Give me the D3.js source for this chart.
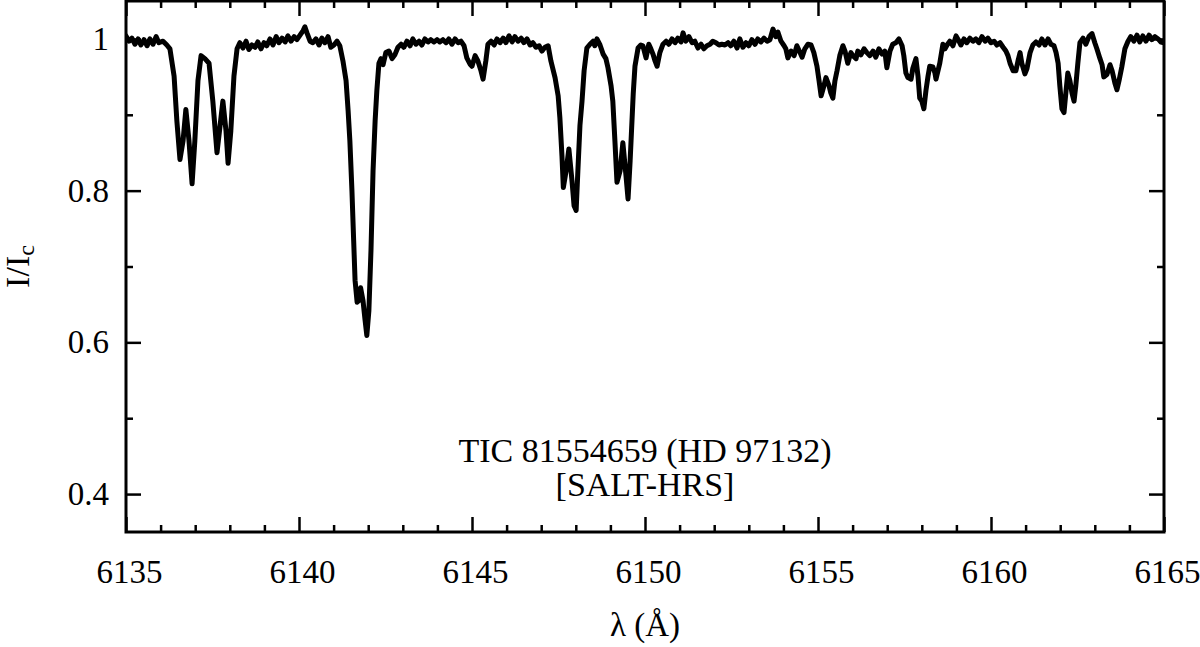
<!DOCTYPE html>
<html>
<head>
<meta charset="utf-8">
<script src="https://cdn.jsdelivr.net/npm/d3@7"></script>
<style>
  html, body { margin: 0; padding: 0; background: #fff; }
  svg { display: block; }
  text { font-family: "Liberation Serif", "Times New Roman", serif; fill: #000; }
</style>
</head>
<body>
<svg id="chart" width="1200" height="647"></svg>
<script>
// ---------------- data ----------------
const wavelength = [
6135.00,6135.09,6135.17,6135.26,6135.35,6135.43,6135.52,6135.61,6135.69,6135.78,6135.87,6135.95,6136.07,6136.18,6136.27,
6136.39,6136.47,6136.56,6136.65,6136.73,6136.82,6136.91,6136.99,6137.08,6137.17,6137.28,6137.40,6137.51,6137.63,6137.72,
6137.80,6137.89,6137.95,6138.03,6138.12,6138.21,6138.29,6138.38,6138.47,6138.55,6138.64,6138.73,6138.81,6138.90,6138.99,
6139.07,6139.16,6139.25,6139.34,6139.42,6139.51,6139.60,6139.68,6139.77,6139.86,6139.94,6140.03,6140.12,6140.17,6140.23,
6140.32,6140.40,6140.49,6140.58,6140.66,6140.75,6140.84,6140.92,6141.01,6141.10,6141.18,6141.27,6141.36,6141.42,6141.47,
6141.53,6141.58,6141.62,6141.68,6141.73,6141.78,6141.85,6141.91,6141.96,6142.02,6142.08,6142.14,6142.20,6142.25,6142.31,
6142.37,6142.43,6142.51,6142.60,6142.69,6142.77,6142.86,6142.95,6143.03,6143.12,6143.21,6143.29,6143.38,6143.47,6143.55,
6143.64,6143.73,6143.81,6143.90,6143.99,6144.07,6144.16,6144.25,6144.33,6144.42,6144.51,6144.60,6144.68,6144.77,6144.85,
6144.94,6145.00,6145.09,6145.17,6145.26,6145.32,6145.40,6145.46,6145.55,6145.64,6145.72,6145.81,6145.90,6145.98,6146.07,
6146.16,6146.24,6146.33,6146.42,6146.50,6146.59,6146.68,6146.76,6146.85,6146.94,6147.02,6147.11,6147.20,6147.28,6147.40,
6147.49,6147.54,6147.60,6147.64,6147.72,6147.80,6147.89,6147.95,6148.01,6148.06,6148.12,6148.18,6148.24,6148.32,6148.41,
6148.50,6148.55,6148.61,6148.70,6148.79,6148.87,6148.93,6149.02,6149.07,6149.13,6149.19,6149.28,6149.36,6149.45,6149.51,
6149.57,6149.66,6149.71,6149.80,6149.88,6149.94,6150.03,6150.11,6150.17,6150.23,6150.29,6150.35,6150.43,6150.52,6150.61,
6150.69,6150.78,6150.87,6150.95,6151.04,6151.10,6151.18,6151.27,6151.36,6151.44,6151.53,6151.62,6151.70,6151.79,6151.88,
6151.96,6152.05,6152.14,6152.22,6152.31,6152.40,6152.48,6152.57,6152.66,6152.74,6152.83,6152.92,6153.00,6153.09,6153.18,
6153.26,6153.35,6153.44,6153.53,6153.61,6153.70,6153.78,6153.84,6153.93,6154.02,6154.07,6154.13,6154.22,6154.31,6154.39,
6154.48,6154.54,6154.62,6154.71,6154.80,6154.88,6154.97,6155.03,6155.09,6155.17,6155.23,6155.32,6155.37,6155.43,6155.49,
6155.55,6155.63,6155.72,6155.78,6155.86,6155.95,6156.01,6156.10,6156.15,6156.24,6156.33,6156.41,6156.50,6156.59,6156.67,
6156.76,6156.85,6156.93,6156.99,6157.08,6157.16,6157.25,6157.34,6157.43,6157.48,6157.54,6157.60,6157.69,6157.74,6157.83,
6157.89,6157.94,6158.00,6158.06,6158.12,6158.18,6158.23,6158.32,6158.38,6158.41,6158.52,6158.61,6158.67,6158.73,6158.81,
6158.90,6158.99,6159.04,6159.13,6159.22,6159.30,6159.39,6159.48,6159.56,6159.65,6159.74,6159.83,6159.91,6160.00,6160.09,
6160.17,6160.26,6160.35,6160.43,6160.49,6160.55,6160.64,6160.72,6160.78,6160.84,6160.89,6160.98,6161.04,6161.13,6161.21,
6161.30,6161.39,6161.47,6161.56,6161.65,6161.73,6161.82,6161.88,6161.94,6161.99,6162.05,6162.11,6162.17,6162.22,6162.28,
6162.34,6162.40,6162.45,6162.51,6162.57,6162.66,6162.74,6162.83,6162.92,6163.00,6163.06,6163.15,6163.21,6163.26,6163.35,
6163.44,6163.50,6163.58,6163.64,6163.70,6163.78,6163.87,6163.96,6164.04,6164.13,6164.22,6164.30,6164.39,6164.48,6164.57,
6164.65,6164.74,6164.83,6164.91,6165.00
];
const intensity = [
1.004,0.997,1.001,0.993,1.000,0.992,0.999,0.991,1.000,0.993,1.003,0.995,0.997,0.992,0.987,
0.951,0.892,0.841,0.866,0.907,0.866,0.809,0.866,0.945,0.978,0.974,0.968,0.918,0.850,0.886,
0.918,0.879,0.836,0.879,0.951,0.987,0.995,0.988,0.997,0.986,0.992,0.989,0.996,0.987,0.995,
0.991,1.000,0.992,1.003,0.995,1.001,0.996,1.004,0.997,1.003,0.999,1.005,1.011,1.016,1.008,
0.997,0.995,1.000,0.992,1.001,0.995,1.003,0.989,0.992,0.997,0.991,0.971,0.945,0.905,0.866,
0.800,0.734,0.682,0.653,0.655,0.672,0.655,0.629,0.609,0.642,0.721,0.826,0.892,0.932,0.968,
0.974,0.966,0.982,0.984,0.974,0.979,0.989,0.993,0.989,0.997,0.991,1.000,0.993,0.997,0.992,
1.000,0.996,0.999,0.996,0.999,0.996,0.999,0.995,1.000,0.993,1.000,0.995,0.997,0.991,0.975,
0.967,0.964,0.978,0.971,0.958,0.947,0.971,0.993,0.997,0.992,1.000,0.995,1.001,0.995,1.004,
0.996,1.003,0.997,1.001,0.995,1.000,0.992,0.995,0.989,0.991,0.984,0.989,0.991,0.971,0.949,
0.925,0.896,0.846,0.804,0.826,0.855,0.813,0.780,0.774,0.826,0.886,0.918,0.958,0.988,0.993,
0.997,0.991,1.000,0.992,0.980,0.974,0.962,0.938,0.918,0.866,0.811,0.826,0.863,0.820,0.789,
0.839,0.928,0.964,0.988,0.992,0.991,0.975,0.993,0.987,0.980,0.971,0.964,0.982,0.993,0.997,
0.993,1.000,0.995,1.001,0.996,1.008,0.997,1.003,0.995,0.997,0.988,0.993,0.987,0.991,0.993,
0.997,0.995,0.992,0.993,0.992,0.995,0.991,0.997,0.988,1.000,0.989,0.995,0.991,0.999,0.993,
1.000,0.996,1.001,0.997,0.999,1.013,1.003,1.009,0.997,0.991,0.987,0.975,0.984,0.978,0.991,
0.982,0.976,0.987,0.993,0.992,0.982,0.964,0.945,0.925,0.938,0.949,0.938,0.929,0.922,0.945,
0.958,0.978,0.991,0.984,0.968,0.982,0.978,0.974,0.984,0.979,0.987,0.982,0.978,0.984,0.976,
0.987,0.980,0.984,0.962,0.984,0.993,0.995,1.000,0.991,0.978,0.955,0.949,0.947,0.961,0.974,
0.951,0.922,0.918,0.908,0.932,0.951,0.964,0.963,0.955,0.947,0.968,0.993,0.987,0.992,0.997,
0.991,1.004,1.000,0.992,1.000,0.995,1.001,0.997,1.000,0.995,1.003,0.997,1.001,0.995,0.997,
0.992,0.995,0.989,0.984,0.978,0.968,0.958,0.958,0.971,0.982,0.968,0.954,0.961,0.982,0.992,
0.996,0.992,1.000,0.992,1.000,0.993,0.991,0.982,0.968,0.938,0.908,0.903,0.932,0.955,0.945,
0.929,0.918,0.938,0.968,0.995,1.001,0.993,1.003,1.007,0.995,0.987,0.974,0.966,0.950,0.953,
0.966,0.958,0.942,0.933,0.945,0.963,0.987,0.997,1.003,0.997,1.005,0.996,1.004,0.997,1.005,
0.999,1.003,1.000,0.996,0.995
];
const xDomain = [6135, 6165];
const yDomain = [0.35, 1.05];
const xMajorTicks = [6135, 6140, 6145, 6150, 6155, 6160, 6165];
const xMinorTicks = [6136,6137,6138,6139,6141,6142,6143,6144,6146,6147,6148,6149,6151,6152,6153,6154,6156,6157,6158,6159,6161,6162,6163,6164];
const yMajorTicks = [0.4, 0.6, 0.8, 1.0];
const yTickLabels = ["0.4", "0.6", "0.8", "1"];
const yMinorTicks = [0.5, 0.7, 0.9];
const annotationLines = ["TIC 81554659 (HD 97132)", "[SALT-HRS]"];
const xLabel = "λ (Å)";

// ---------------- layout ----------------
const margin = { left: 126, top: 1, right: 36, bottom: 115 };
const W = 1200, H = 647;
const pw = W - margin.left - margin.right;   // 1038
const ph = H - margin.top - margin.bottom;   // 531

const svg = d3.select("#chart");
const g = svg.append("g").attr("transform", `translate(${margin.left},${margin.top})`);

const x = d3.scaleLinear().domain(xDomain).range([0, pw]);
const y = d3.scaleLinear().domain(yDomain).range([ph, 0]);

const FS = 33;
const majorLen = 15, minorLen = 7;

function styleAxis(sel) {
  sel.select(".domain").remove();
  sel.selectAll(".tick line").attr("stroke", "#000").attr("stroke-width", 2.5);
  sel.selectAll(".tick text").style("font-size", FS + "px").style("font-family", '"Liberation Serif", serif').attr("fill", "#000");
}

// bottom axis (major with labels)
g.append("g").attr("transform", `translate(0,${ph})`)
  .call(d3.axisBottom(x).tickValues(xMajorTicks).tickSize(-majorLen).tickPadding(28).tickFormat(d3.format("d")))
  .call(styleAxis)
  .selectAll(".tick text").attr("dx", 3);
g.append("g").attr("transform", `translate(0,${ph})`)
  .call(d3.axisBottom(x).tickValues(xMinorTicks).tickSize(-minorLen).tickFormat(""))
  .call(styleAxis);
// top axis
g.append("g")
  .call(d3.axisTop(x).tickValues(xMajorTicks).tickSize(-majorLen).tickFormat(""))
  .call(styleAxis);
g.append("g")
  .call(d3.axisTop(x).tickValues(xMinorTicks).tickSize(-minorLen).tickFormat(""))
  .call(styleAxis);
// left axis
g.append("g")
  .call(d3.axisLeft(y).tickValues(yMajorTicks).tickSize(-majorLen).tickPadding(17)
    .tickFormat((d, i) => yTickLabels[i]))
  .call(styleAxis);
g.append("g")
  .call(d3.axisLeft(y).tickValues(yMinorTicks).tickSize(-minorLen).tickFormat(""))
  .call(styleAxis);
// right axis
g.append("g").attr("transform", `translate(${pw},0)`)
  .call(d3.axisRight(y).tickValues(yMajorTicks).tickSize(-majorLen).tickFormat(""))
  .call(styleAxis);
g.append("g").attr("transform", `translate(${pw},0)`)
  .call(d3.axisRight(y).tickValues(yMinorTicks).tickSize(-minorLen).tickFormat(""))
  .call(styleAxis);

// clip
svg.append("defs").append("clipPath").attr("id", "clip")
  .append("rect").attr("x", 0).attr("y", 0).attr("width", pw).attr("height", ph);

// spectrum line
const data = wavelength.map((w, i) => [w, intensity[i]]);
g.append("path")
  .datum(data)
  .attr("clip-path", "url(#clip)")
  .attr("fill", "none")
  .attr("stroke", "#000")
  .attr("stroke-width", 5)
  .attr("stroke-linejoin", "round")
  .attr("stroke-linecap", "round")
  .attr("d", d3.line().x(d => x(d[0])).y(d => y(d[1])));

// frame
g.append("rect")
  .attr("x", 0).attr("y", 0).attr("width", pw).attr("height", ph)
  .attr("fill", "none").attr("stroke", "#000").attr("stroke-width", 3);

// annotation
const ann = g.append("text").attr("text-anchor", "middle").style("font-size", "34px");
annotationLines.forEach((t, i) => {
  ann.append("tspan").attr("x", pw / 2).attr("y", 462 - margin.top + i * 34).text(t);
});

// x label
g.append("text")
  .attr("x", pw / 2).attr("y", 636 - margin.top)
  .attr("text-anchor", "middle")
  .style("font-size", FS + "px")
  .text(xLabel);

// y label
const yl = svg.append("text")
  .attr("transform", `translate(29,${margin.top + ph / 2}) rotate(-90)`)
  .attr("text-anchor", "middle")
  .style("font-size", "34px");
yl.append("tspan").text("I/I");
yl.append("tspan").attr("dy", "0.22em").style("font-size", "24px").text("c");
</script>
</body>
</html>
